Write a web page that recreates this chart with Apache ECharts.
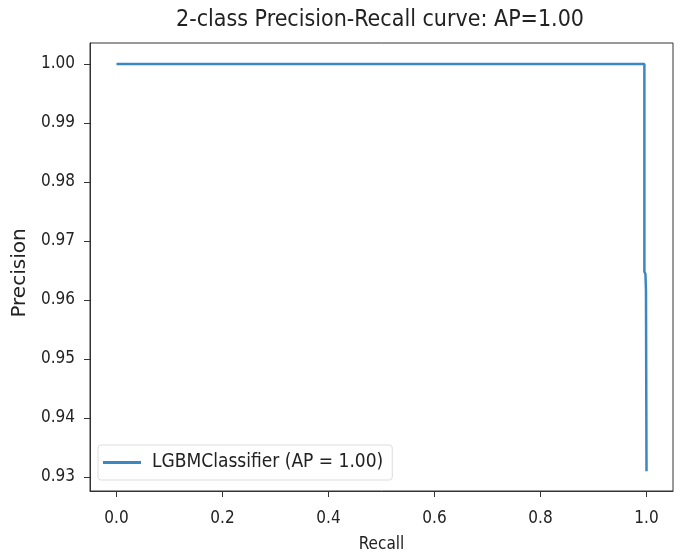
<!DOCTYPE html>
<html>
<head>
<meta charset="utf-8">
<script src="https://cdn.jsdelivr.net/npm/echarts@6/dist/echarts.min.js"></script>
<style>
  html, body { margin: 0; padding: 0; background: #fff; }
  #chart { width: 681px; height: 558px; }
</style>
</head>
<body>
<div id="chart"></div>
<script>
// PR curve points (recall, precision)
const recall = [0.0, 0.996, 0.996, 0.998, 0.999, 1.0, 1.0];
const precision = [1.0, 1.0, 0.9648, 0.9644, 0.9616, 0.9614, 0.931];

const xTicks = [0.0, 0.2, 0.4, 0.6, 0.8, 1.0];
const yTicks = [0.93, 0.94, 0.95, 0.96, 0.97, 0.98, 0.99, 1.00];

const FONT = "'DejaVu Sans Condensed', 'DejaVu Sans', sans-serif";
const AXIS_COLOR = '#333';
const TEXT_COLOR = '#222';

const chart = echarts.init(document.getElementById('chart'), null, { renderer: 'canvas' });

const option = {
    backgroundColor: '#fff',
    animation: false,
    title: {
        text: '2-class Precision-Recall curve: AP=1.00',
        left: 176,
        top: 9,
        padding: 0,
        textStyle: { fontFamily: FONT, fontSize: 23, fontWeight: 'normal', color: TEXT_COLOR },
    },
    grid: {
        left: 90,
        right: 8,
        top: 43,
        bottom: 65,
        show: true,
        borderColor: AXIS_COLOR,
        borderWidth: 1,
    },
    legend: {
        left: 98,
        top: 445,
        orient: 'vertical',
        padding: [8, 9, 8, 5],
        itemWidth: 38,
        itemHeight: 3,
        itemGap: 0,
        backgroundColor: '#fff',
        borderColor: '#ddd',
        borderWidth: 1,
        borderRadius: 3,
        icon: 'rect',
        textStyle: { fontFamily: FONT, fontSize: 19, color: TEXT_COLOR, padding: [0, 0, 0, 6] },
        data: ['LGBMClassifier (AP = 1.00)'],
    },
    xAxis: {
        type: 'value',
        min: -0.05,
        max: 1.05,
        name: 'Recall',
        nameLocation: 'middle',
        nameGap: 45,
        nameTextStyle: { fontFamily: FONT, fontSize: 17, color: TEXT_COLOR },
        splitLine: { show: false },
        axisLine: { show: true, onZero: false, lineStyle: { color: AXIS_COLOR } },
        axisTick: { show: true, length: 6, customValues: xTicks, lineStyle: { color: AXIS_COLOR } },
        axisLabel: {
            customValues: xTicks,
            formatter: v => v.toFixed(1),
            margin: 19,
            fontFamily: FONT,
            fontSize: 17,
            color: TEXT_COLOR,
        },
    },
    yAxis: {
        type: 'value',
        min: 0.92764,
        max: 1.00354,
        name: 'Precision',
        nameLocation: 'middle',
        nameGap: 59,
        nameTextStyle: {
            fontFamily: "'DejaVu Sans', sans-serif",
            fontSize: 20,
            color: TEXT_COLOR,
            padding: [0, 12, 0, 0],
        },
        splitLine: { show: false },
        axisLine: { show: true, onZero: false, lineStyle: { color: AXIS_COLOR } },
        axisTick: { show: true, length: 6, customValues: yTicks, lineStyle: { color: AXIS_COLOR } },
        axisLabel: {
            customValues: yTicks,
            formatter: v => v.toFixed(2),
            margin: 15,
            fontFamily: FONT,
            fontSize: 17,
            color: TEXT_COLOR,
        },
    },
    series: [
        {
            name: 'LGBMClassifier (AP = 1.00)',
            type: 'line',
            showSymbol: false,
            symbol: 'none',
            color: '#3a87c2',
            lineStyle: { width: 2.5, color: '#3a87c2' },
            data: recall.map((r, i) => [r, precision[i]]),
        },
    ],
};

chart.setOption(option);
</script>
</body>
</html>
